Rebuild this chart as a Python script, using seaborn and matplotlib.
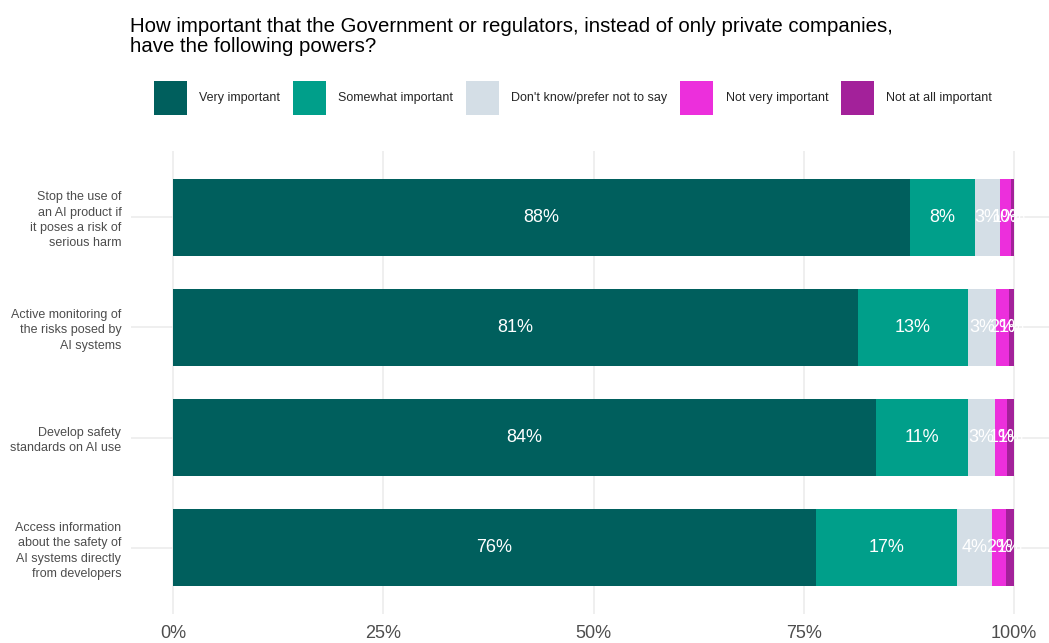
import numpy as np
import pandas as pd
import matplotlib
matplotlib.use("Agg")
import matplotlib.pyplot as plt
from matplotlib.patches import Patch
import seaborn as sns

# Survey items (top to bottom)
categories = [
    "Stop the use of\nan AI product if\nit poses a risk of\nserious harm",
    "Active monitoring of\nthe risks posed by\nAI systems",
    "Develop safety\nstandards on AI use",
    "Access information\nabout the safety of\nAI systems directly\nfrom developers",
]

# Share of responses (%) per answer option
very_important = [87.6, 81.4, 83.6, 76.4]
somewhat_important = [7.8, 13.1, 10.9, 16.8]
dont_know = [2.9, 3.4, 3.3, 4.2]
not_very_important = [1.3, 1.5, 1.4, 1.6]
not_at_all_important = [0.4, 0.6, 0.8, 1.0]

levels = ["Very important", "Somewhat important", "Don't know/prefer not to say",
          "Not very important", "Not at all important"]
colors = ["#005f5d", "#009f8a", "#d4dee6", "#ec2fdc", "#a3219a"]

title = ("How important that the Government or regulators, instead of only private companies,\n"
         "have the following powers?")

sns.set_theme(style="white")
plt.rcParams["font.family"] = ["Liberation Sans", "DejaVu Sans"]

df = pd.DataFrame({
    "item": categories,
    levels[0]: very_important,
    levels[1]: somewhat_important,
    levels[2]: dont_know,
    levels[3]: not_very_important,
    levels[4]: not_at_all_important,
})
cum = df[levels].cumsum(axis=1)

fig = plt.figure(figsize=(10.49, 6.43), dpi=100)
ax = fig.add_axes([131 / 1049, 1 - 614 / 643, (1056 - 131) / 1049, (614 - 151) / 643])

# Light grid underneath the bars
for xv in [0, 25, 50, 75, 100]:
    ax.axvline(xv, color="#ebebeb", lw=1.1, zorder=0)
for yv in range(len(categories)):
    ax.axhline(yv, color="#ebebeb", lw=1.1, zorder=0)

# Stacked bars: draw cumulative totals from the outermost level inwards
for lvl, col in reversed(list(zip(levels, colors))):
    sns.barplot(data=pd.DataFrame({"item": categories, "value": cum[lvl]}),
                x="value", y="item", orient="h", color=col, width=0.7,
                saturation=1, linewidth=0, ax=ax, zorder=2)

# Value labels centred on each segment
for i in range(len(categories)):
    for lvl in levels:
        v = df.loc[i, lvl]
        centre = cum.loc[i, lvl] - v / 2
        ax.text(centre, i, f"{v:.0f}%", ha="center", va="center",
                color="white", fontsize=13, zorder=3)

ax.set_xlim(-5, 105)
ax.set_ylim(len(categories) - 0.4, -0.6)
ax.set_xticks([0, 25, 50, 75, 100])
ax.set_xticklabels(["0%", "25%", "50%", "75%", "100%"])
ax.set_xlabel("")
ax.set_ylabel("")
ax.tick_params(axis="x", length=0, pad=8, labelsize=13, labelcolor="#4d4d4d")
ax.tick_params(axis="y", length=0, pad=7, labelsize=9, labelcolor="#4d4d4d")
for lab in ax.get_yticklabels():
    lab.set_linespacing(1.35)
for s in ax.spines.values():
    s.set_visible(False)

fig.text(130 / 1049, 1 - 17 / 643, title, ha="left", va="top",
         fontsize=14.7, color="black", linespacing=1.05)

handles = [Patch(facecolor=c, edgecolor="none", label=l) for l, c in zip(levels, colors)]
fig.legend(handles=handles, loc="center", bbox_to_anchor=(573 / 1049, 1 - 98 / 643),
           ncol=5, frameon=False, fontsize=9, handlelength=2.64, handleheight=3.69,
           handletextpad=1.0, columnspacing=1.0, borderpad=0)

fig.savefig("out.png", dpi=100)
